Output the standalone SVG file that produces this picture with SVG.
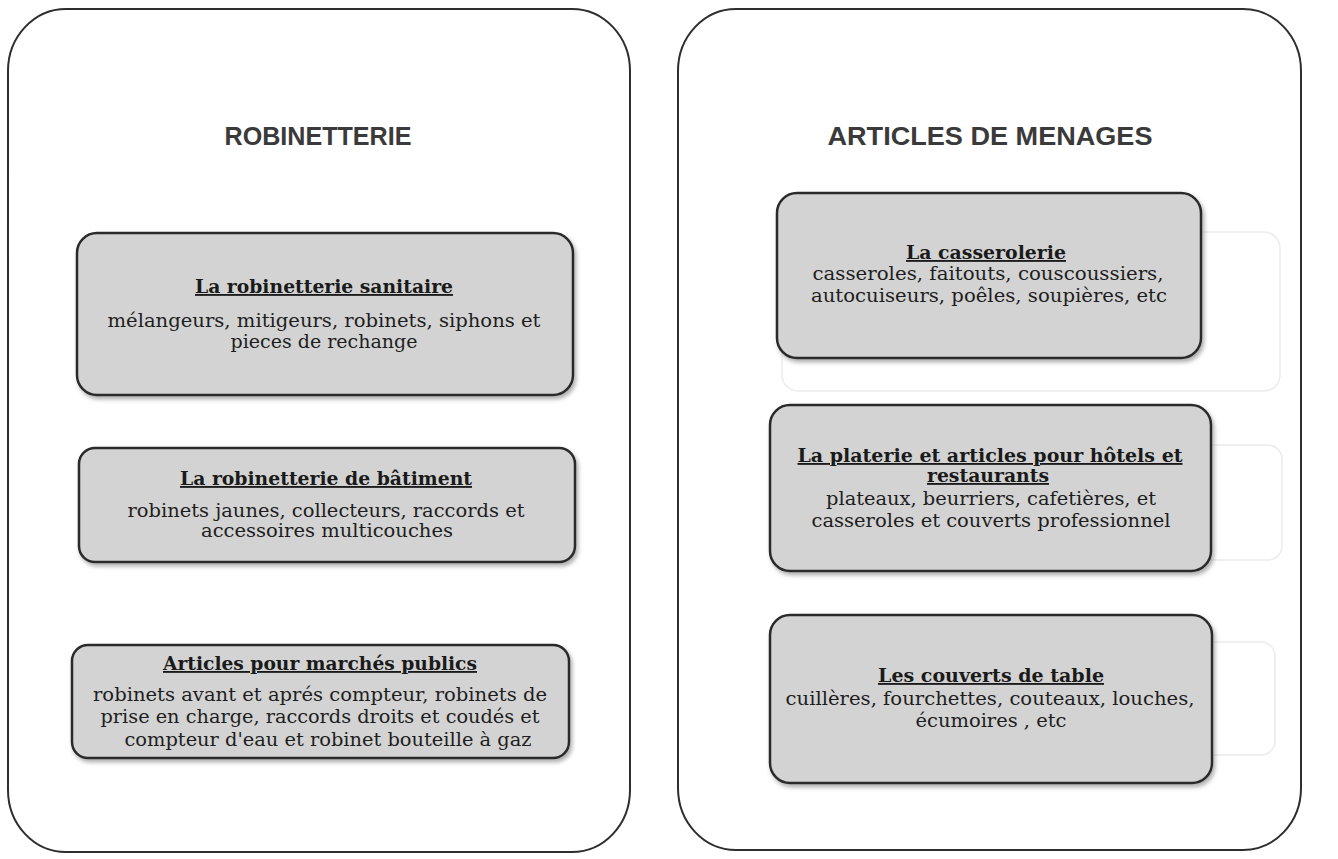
<svg xmlns="http://www.w3.org/2000/svg" width="1338" height="859" viewBox="0 0 1338 859">
<defs>
<filter id="sh" x="-5%" y="-10%" width="112%" height="125%">
<feDropShadow dx="2" dy="3" stdDeviation="2" flood-color="#777" flood-opacity="0.6"/>
</filter>
<style>
.frame{fill:#ffffff;stroke:#2e2e2e;stroke-width:2}
.ghost{fill:none;stroke:#ececec;stroke-width:1.5}
.box{fill:#d3d3d3;stroke:#2a2a2a;stroke-width:2.5}
.head{font-family:"Liberation Sans",Arial,sans-serif;font-weight:bold;font-size:25px;fill:#3a3a3a;text-anchor:middle}
.ttl{font-family:"DejaVu Serif","Liberation Serif",serif;font-weight:bold;font-size:18.5px;fill:#1a1a1a;text-anchor:middle;text-decoration:underline}
.txt{font-family:"DejaVu Serif","Liberation Serif",serif;font-size:18.5px;fill:#1e1e1e;text-anchor:middle}
</style>
</defs>
<rect width="1338" height="859" fill="#ffffff"/>

<g id="frame-robinetterie">
<rect class="frame" x="8" y="9" width="622" height="843" rx="58" ry="62"/>
<text class="head" x="318" y="145" textLength="187" lengthAdjust="spacingAndGlyphs">ROBINETTERIE</text>
</g>

<g id="frame-menages">
<rect class="frame" x="678" y="9" width="623" height="841" rx="58" ry="62"/>
<text class="head" x="990" y="145" textLength="325" lengthAdjust="spacingAndGlyphs">ARTICLES DE MENAGES</text>
</g>

<g id="ghosts">
<rect class="ghost" x="782" y="232" width="498" height="159" rx="16"/>
<rect class="ghost" x="780" y="445" width="502" height="115" rx="14"/>
<rect class="ghost" x="780" y="642" width="495" height="113" rx="14"/>
</g>

<g id="node-sanitaire">
<rect class="box" filter="url(#sh)" x="77" y="233" width="496" height="162" rx="20"/>
<text class="ttl" x="324" y="293" textLength="258" lengthAdjust="spacingAndGlyphs">La robinetterie sanitaire</text>
<text class="txt" x="324" y="327" textLength="433" lengthAdjust="spacingAndGlyphs">mélangeurs, mitigeurs, robinets, siphons et</text>
<text class="txt" x="324" y="348" textLength="187" lengthAdjust="spacingAndGlyphs">pieces de rechange</text>
</g>

<g id="node-batiment">
<rect class="box" filter="url(#sh)" x="79" y="448" width="496" height="114" rx="16"/>
<text class="ttl" x="326" y="485" textLength="292" lengthAdjust="spacingAndGlyphs">La robinetterie de bâtiment</text>
<text class="txt" x="326" y="517" textLength="397" lengthAdjust="spacingAndGlyphs">robinets jaunes, collecteurs, raccords et</text>
<text class="txt" x="327" y="537" textLength="252" lengthAdjust="spacingAndGlyphs">accessoires multicouches</text>
</g>

<g id="node-marches">
<rect class="box" filter="url(#sh)" x="72" y="645" width="497" height="113" rx="16"/>
<text class="ttl" x="320" y="670" textLength="314" lengthAdjust="spacingAndGlyphs">Articles pour marchés publics</text>
<text class="txt" x="320" y="701" textLength="454" lengthAdjust="spacingAndGlyphs">robinets avant et aprés compteur, robinets de</text>
<text class="txt" x="320" y="723" textLength="439" lengthAdjust="spacingAndGlyphs">prise en charge, raccords droits et coudés et</text>
<text class="txt" x="328" y="746" textLength="407" lengthAdjust="spacingAndGlyphs">compteur d'eau et robinet bouteille à gaz</text>
</g>

<g id="node-casserolerie">
<rect class="box" filter="url(#sh)" x="777" y="193" width="424" height="165" rx="20"/>
<text class="ttl" x="986" y="259" textLength="160" lengthAdjust="spacingAndGlyphs">La casserolerie</text>
<text class="txt" x="988" y="280" textLength="351" lengthAdjust="spacingAndGlyphs">casseroles, faitouts, couscoussiers,</text>
<text class="txt" x="989" y="302" textLength="356" lengthAdjust="spacingAndGlyphs">autocuiseurs, poêles, soupières, etc</text>
</g>

<g id="node-platerie">
<rect class="box" filter="url(#sh)" x="770" y="405" width="441" height="166" rx="20"/>
<text class="ttl" x="990" y="462" textLength="385" lengthAdjust="spacingAndGlyphs">La platerie et articles pour hôtels et</text>
<text class="ttl" x="988" y="482" textLength="122" lengthAdjust="spacingAndGlyphs">restaurants</text>
<text class="txt" x="991" y="505" textLength="330" lengthAdjust="spacingAndGlyphs">plateaux, beurriers, cafetières, et</text>
<text class="txt" x="991" y="527" textLength="359" lengthAdjust="spacingAndGlyphs">casseroles et couverts professionnel</text>
</g>

<g id="node-couverts">
<rect class="box" filter="url(#sh)" x="770" y="615" width="442" height="168" rx="20"/>
<text class="ttl" x="991" y="682" textLength="226" lengthAdjust="spacingAndGlyphs">Les couverts de table</text>
<text class="txt" x="990" y="705" textLength="409" lengthAdjust="spacingAndGlyphs">cuillères, fourchettes, couteaux, louches,</text>
<text class="txt" x="991" y="727" textLength="151" lengthAdjust="spacingAndGlyphs">écumoires , etc</text>
</g>

<g id="connectors"></g>
</svg>
